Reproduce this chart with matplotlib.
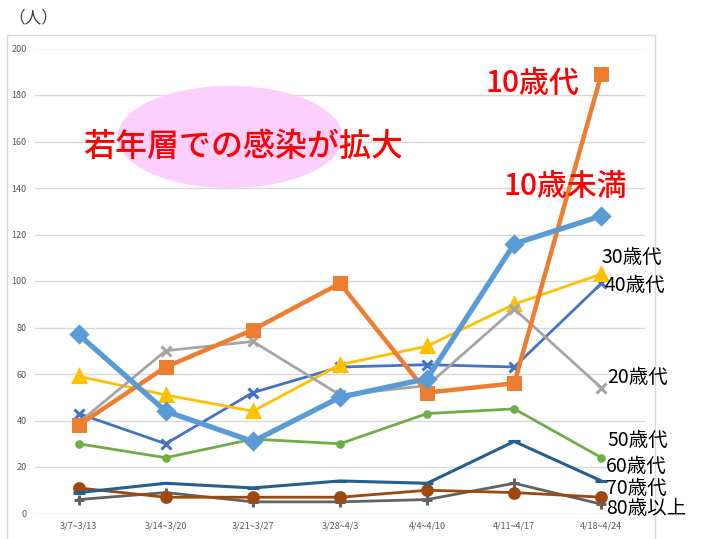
import matplotlib
matplotlib.use("Agg")
import matplotlib.pyplot as plt
from matplotlib.patches import Ellipse, Rectangle

plt.rcParams['font.family'] = ['Noto Sans CJK JP', 'DejaVu Sans']

weeks = ["3/7~3/13", "3/14~3/20", "3/21~3/27", "3/28~4/3",
         "4/4~4/10", "4/11~4/17", "4/18~4/24"]

under10 = [77, 44, 31, 50, 58, 116, 128]
age10s = [38, 63, 79, 99, 52, 56, 189]
age20s = [39, 70, 74, 51, 55, 88, 54]
age30s = [59, 51, 44, 64, 72, 90, 103]
age40s = [43, 30, 52, 63, 64, 63, 99]
age50s = [30, 24, 32, 30, 43, 45, 24]
age60s = [9, 13, 11, 14, 13, 31, 14]
age70s = [11, 7, 7, 7, 10, 9, 7]
age80plus = [6, 9, 5, 5, 6, 13, 4]

yticks = [0, 20, 40, 60, 80, 100, 120, 140, 160, 180, 200]

W, H = 704, 539
fig = plt.figure(figsize=(W / 100, H / 100), dpi=100)


def px(x, y):
    # pixel position (top-left origin) -> figure fraction
    return x / W, 1 - y / H


# light frame around chart area
fig.patches.append(Rectangle(px(7, 545), 648 / W, 510 / H, transform=fig.transFigure,
                             fill=False, edgecolor="#D9D9D9", lw=1))

ax = fig.add_axes([35 / W, 1 - 513.5 / H, 610 / W, 465 / H])
x = list(range(len(weeks)))

series = [
    (age80plus, "#636363", "+", 2, 7),
    (age70s, "#9E480E", "o", 2, 7),
    (age60s, "#255E91", "_", 2.2, 8),
    (age50s, "#70AD47", "o", 2, 4),
    (age40s, "#4472C4", "x", 2, 7),
    (age30s, "#FFC000", "^", 2, 8),
    (age20s, "#A5A5A5", "x", 2, 7),
    (age10s, "#ED7D31", "s", 3.2, 8.5),
    (under10, "#5B9BD5", "D", 3.8, 8),
]
for vals, col, mk, lw, ms in series:
    ax.plot(x, vals, color=col, lw=lw, marker=mk, ms=ms, mew=2.2,
            mec=col, mfc=col, solid_joinstyle="round", zorder=3)

ax.set_xlim(-0.5, 6.5)
ax.set_ylim(0, 200)
ax.set_yticks(yticks)
ax.set_xticks(x)
ax.set_xticklabels(weeks)
ax.tick_params(length=0, labelsize=6.5, colors="#595959", pad=6)
ax.tick_params(axis="y", pad=6)
ax.grid(axis="y", color="#D9D9D9", lw=1)
ax.set_axisbelow(True)
for s in ax.spines.values():
    s.set_visible(False)

# pink ellipse + headline
ell = Ellipse(px(230, 137), 225 / W, 102 / H, transform=fig.transFigure,
              facecolor="#FCCFFC", edgecolor="none", zorder=1)
fig.patches.append(ell)
fig.text(*px(243, 147), "若年層での感染が拡大", color="#FF0000", fontsize=23,
         fontweight="medium", ha="center", va="center")

fig.text(*px(8, 18), "（人）", color="#404040", fontsize=12, ha="left", va="center")

fig.text(*px(485, 83), "10歳代", color="#FF0000", fontsize=21.5, fontweight="medium",
         ha="left", va="center")
fig.text(*px(503, 186), "10歳未満", color="#FF0000", fontsize=21.5, fontweight="medium",
         ha="left", va="center")

labels = [
    ("30歳代", 601, 257), ("40歳代", 605, 285), ("20歳代", 607, 377),
    ("50歳代", 607, 440), ("60歳代", 606, 466), ("70歳代", 606, 488),
    ("80歳以上", 606, 508),
]
for txt, lx, ly in labels:
    fig.text(*px(lx, ly), txt, color="black", fontsize=14, ha="left", va="center")

fig.savefig("out.png", dpi=100)
